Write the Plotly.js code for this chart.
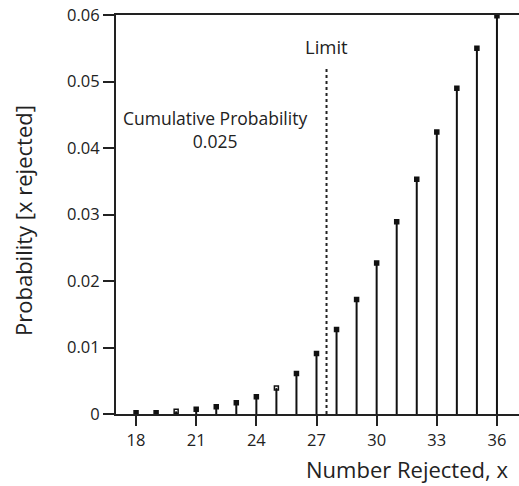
<!DOCTYPE html>
<html>
<head>
<meta charset="utf-8">
<script src="https://cdn.plot.ly/plotly-3.0.1.min.js"></script>
<style>html,body{margin:0;padding:0;background:#fff}#chart{width:519px;height:486px}</style>
</head>
<body>
<div id="chart"></div>
<script>
const numberRejected = [18,19,20,21,22,23,24,25,26,27,28,29,30,31,32,33,34,35,36];
const probability = [0.0002,0.0002,0.0004,0.0007,0.0011,0.0017,0.0026,0.0039,0.0061,0.0091,0.0127,0.0172,0.0227,0.0289,0.0353,0.0424,0.0490,0.0550,0.0599];
const openMarkers = [20,25];
const xTickVals = [18,21,24,27,30,33,36];
const yTickVals = [0,0.01,0.02,0.03,0.04,0.05,0.06];
const yTickText = ["0","0.01","0.02","0.03","0.04","0.05","0.06"];
const limitX = 27.5;
const limitTop = 0.052;

const font = "Open Sans, Noto Sans, sans-serif";
const symbols = numberRejected.map(x => openMarkers.includes(x) ? "square-open" : "square");

const trace = {
  type: "scatter",
  mode: "markers",
  x: numberRejected,
  y: probability,
  marker: {symbol: symbols, size: 4, color: "#111", line: {color: "#111", width: 1.5}},
  error_y: {type: "data", symmetric: false, array: probability.map(() => 0), arrayminus: probability, width: 0, thickness: 2, color: "#111"},
  hoverinfo: "x+y",
  showlegend: false
};

const layout = {
  width: 519, height: 486,
  margin: {l: 116, r: 0, t: 15, b: 72},
  paper_bgcolor: "#fff", plot_bgcolor: "#fff",
  font: {family: font, color: "#222", size: 16},
  xaxis: {
    range: [17, 37.1], tickvals: xTickVals, ticks: "outside", ticklen: 10, tickwidth: 2, tickcolor: "#222",
    showline: true, linecolor: "#222", linewidth: 2, mirror: true, showgrid: false, zeroline: false,
    tickfont: {size: 16.5, family: font}
  },
  yaxis: {
    range: [0, 0.06], tickvals: yTickVals, ticktext: yTickText, ticks: "outside", ticklen: 11, tickwidth: 2, tickcolor: "#222",
    showline: true, linecolor: "#222", linewidth: 2, showgrid: false, zeroline: false,
    tickfont: {size: 16.5, family: font}
  },
  shapes: [
    {type: "line", xref: "x", yref: "y", x0: limitX, x1: limitX, y0: 0, y1: limitTop, line: {color: "#222", width: 2, dash: "dot"}}
  ],
  annotations: [
    {xref: "x", yref: "y", x: limitX, y: 0.0552, text: "Limit", showarrow: false, font: {size: 18.5, family: font}},
    {xref: "x", yref: "y", x: 21.95, y: 0.0428, text: "Cumulative Probability<br>0.025", showarrow: false, font: {size: 17.5, family: font}},
    {xref: "paper", yref: "paper", x: 0.978, xanchor: "right", y: -0.138, yanchor: "middle", text: "Number Rejected, x", showarrow: false, font: {size: 22, family: font}},
    {xref: "paper", yref: "paper", x: -0.231, xanchor: "center", y: 0.486, yanchor: "middle", textangle: -90, text: "Probability [x rejected]", showarrow: false, font: {size: 22, family: font}}
  ]
};

Plotly.newPlot("chart", [trace], layout, {displayModeBar: false, staticPlot: true});
</script>
</body>
</html>
